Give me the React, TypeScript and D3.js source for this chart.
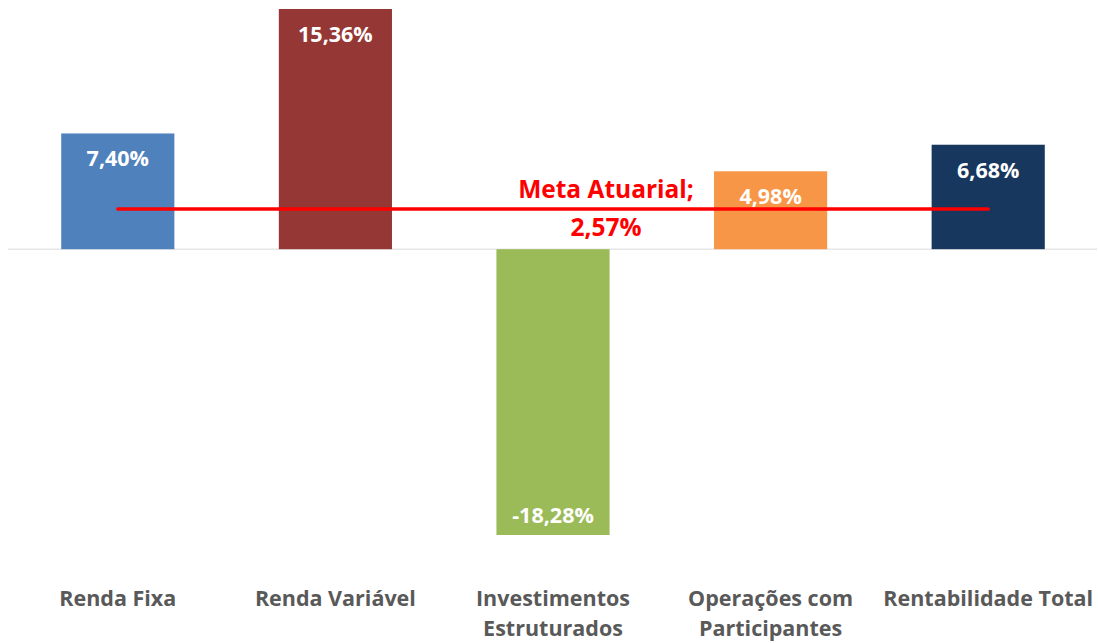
import React from "react";
import * as d3 from "d3";

const categories: string[][] = [
  ["Renda Fixa"],
  ["Renda Variável"],
  ["Investimentos", "Estruturados"],
  ["Operações com", "Participantes"],
  ["Rentabilidade Total"],
];
const values: number[] = [7.4, 15.36, -18.28, 4.98, 6.68];
const valueLabels: string[] = ["7,40%", "15,36%", "-18,28%", "4,98%", "6,68%"];
const colors: string[] = ["#4F81BD", "#953735", "#9BBB59", "#F79646", "#17375E"];
const metaValue = 2.57;
const metaLabel: string[] = ["Meta Atuarial;", "2,57%"];

const W = 1098;
const H = 643;
const FONT = "'Open Sans', sans-serif";

export default function App() {
  const idx = values.map((_, i) => String(i));
  const x = d3.scaleBand<string>().domain(idx).range([9, 1097]).paddingInner(0.48).paddingOuter(0.24);
  const y = d3.scaleLinear().domain([-18.28, 15.36]).range([535, 9]);
  const y0 = y(0);
  const ym = y(metaValue);
  const bw = x.bandwidth();
  const cx = (i: number) => (x(String(i)) as number) + bw / 2;

  return (
    <div style={{ position: "absolute", left: 0, top: 0 }}>
      <svg width={W} height={H} style={{ display: "block" }}>
        <line x1={8} x2={1097} y1={y0} y2={y0} stroke="#D9D9D9" strokeWidth={1} />
        {values.map((v, i) => (
          <rect
            key={i}
            x={x(String(i))}
            y={Math.min(y(v), y0)}
            width={bw}
            height={Math.abs(y(v) - y0)}
            fill={colors[i]}
          />
        ))}
        {values.map((v, i) => (
          <text
            key={"l" + i}
            x={cx(i)}
            y={v >= 0 ? y(v) + 33 : y(v) - 12}
            textAnchor="middle"
            fill="#FFFFFF"
            fontFamily={FONT}
            fontWeight="bold"
            fontSize={21.5}
          >
            {valueLabels[i]}
          </text>
        ))}
        <line
          x1={cx(0)}
          x2={cx(values.length - 1)}
          y1={ym}
          y2={ym}
          stroke="#FF0000"
          strokeWidth={3.5}
          strokeLinecap="round"
        />
        {metaLabel.map((t, k) => (
          <text
            key={"m" + k}
            x={606}
            y={198 + k * 38}
            textAnchor="middle"
            fill="#FF0000"
            fontFamily={FONT}
            fontWeight="bold"
            fontSize={24.5}
          >
            {t}
          </text>
        ))}
        {categories.map((lines, i) =>
          lines.map((t, k) => (
            <text
              key={"c" + i + "-" + k}
              x={cx(i)}
              y={606 + k * 30}
              textAnchor="middle"
              fill="#595959"
              fontFamily={FONT}
              fontWeight="bold"
              fontSize={21.5}
            >
              {t}
            </text>
          ))
        )}
      </svg>
    </div>
  );
}
